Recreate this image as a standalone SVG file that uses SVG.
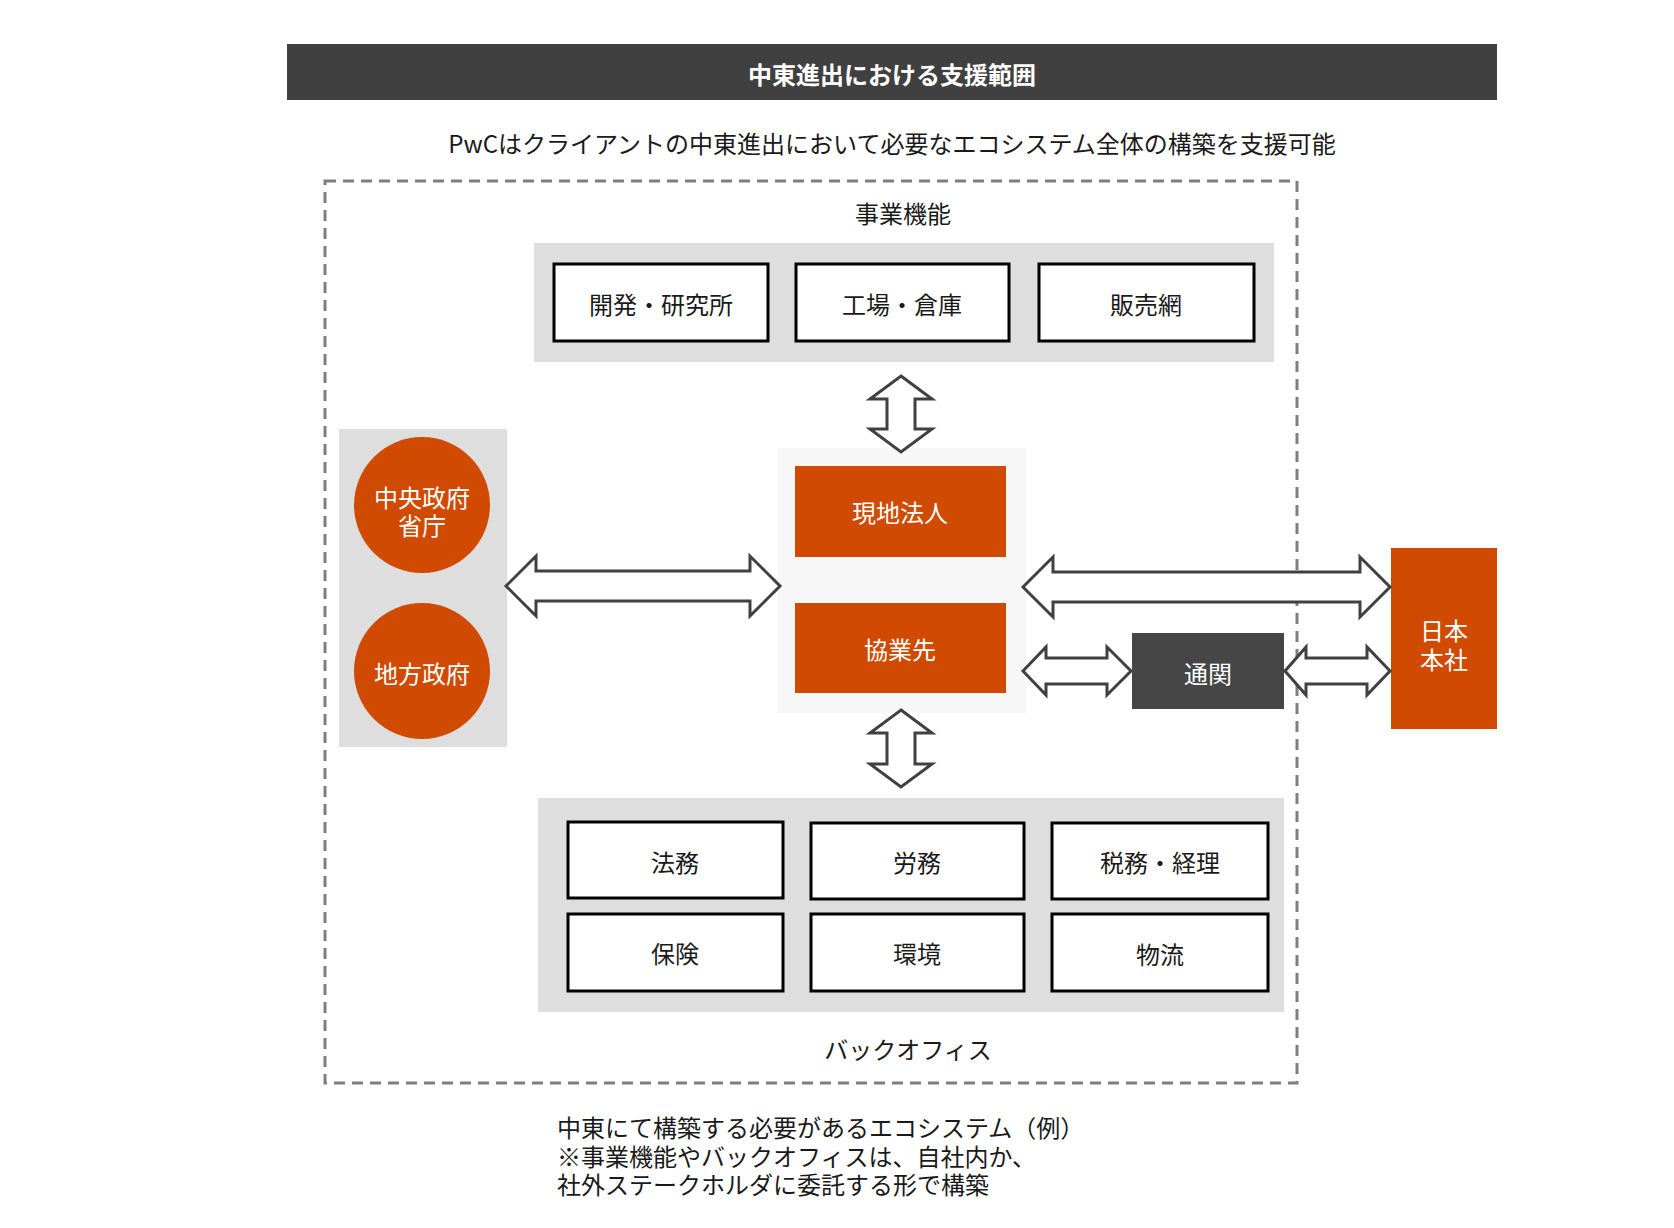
<svg xmlns="http://www.w3.org/2000/svg" width="1674" height="1228" viewBox="0 0 1674 1228">
<style>
text{font-family:"Noto Sans CJK JP","Noto Sans",sans-serif;font-size:24px;fill:#1a1a1a}
.c{text-anchor:middle;dominant-baseline:central}
.w{fill:#ffffff}
.box{fill:#ffffff;stroke:#000000;stroke-width:3}
.panel{fill:#dedede}
.org{fill:#d04a02}
.arr{fill:#ffffff;stroke:#404040;stroke-width:3;stroke-linejoin:miter}
</style>
<rect width="1674" height="1228" fill="#ffffff"/>
<g id="header">
<rect x="287" y="44" width="1210" height="56" fill="#404040"/>
<text class="c w" x="892" y="73" font-weight="bold" font-size="24">中東進出における支援範囲</text>
<text class="c" x="892" y="142" font-size="24.3">PwCはクライアントの中東進出において必要なエコシステム全体の構築を支援可能</text>
</g>
<rect id="scope" x="325" y="181" width="972" height="902" fill="none" stroke="#7f7f7f" stroke-width="3" stroke-dasharray="11,7"/>
<g id="business">
<text class="c" x="903" y="212">事業機能</text>
<rect class="panel" x="534" y="243" width="740" height="119"/>
<g id="n-rd"><rect class="box" x="554" y="264" width="214" height="77"/><text class="c" x="661" y="303">開発・研究所</text></g>
<g id="n-factory"><rect class="box" x="796" y="264" width="213" height="77"/><text class="c" x="902" y="303">工場・倉庫</text></g>
<g id="n-sales"><rect class="box" x="1039" y="264" width="215" height="77"/><text class="c" x="1146" y="303">販売網</text></g>
</g>
<g id="government">
<rect class="panel" x="339" y="429" width="168" height="318"/>
<g id="n-central"><circle class="org" cx="422" cy="505" r="68"/><text class="c w" x="422" y="496">中央政府<tspan x="422" dy="28">省庁</tspan></text></g>
<g id="n-local"><circle class="org" cx="422" cy="671" r="68"/><text class="c w" x="422" y="672">地方政府</text></g>
</g>
<g id="local-entity">
<rect x="777" y="448" width="249" height="265" fill="#f7f7f7"/>
<g id="n-subsidiary"><rect class="org" x="795" y="466" width="211" height="91"/><text class="c w" x="900" y="511">現地法人</text></g>
<g id="n-partner"><rect class="org" x="795" y="603" width="211" height="90"/><text class="c w" x="900" y="648">協業先</text></g>
</g>
<g id="n-customs"><rect x="1132" y="633" width="152" height="76" fill="#464646"/><text class="c w" x="1208" y="672">通関</text></g>
<g id="n-hq"><rect class="org" x="1391" y="548" width="106" height="181"/><text class="c w" x="1444" y="629">日本<tspan x="1444" dy="29">本社</tspan></text></g>
<g id="backoffice">
<rect class="panel" x="538" y="798" width="746" height="214"/>
<g id="n-legal"><rect class="box" x="568" y="822" width="215" height="76"/><text class="c" x="675" y="861">法務</text></g>
<g id="n-labor"><rect class="box" x="811" y="823" width="213" height="76"/><text class="c" x="917" y="861">労務</text></g>
<g id="n-tax"><rect class="box" x="1052" y="823" width="216" height="76"/><text class="c" x="1160" y="861">税務・経理</text></g>
<g id="n-insurance"><rect class="box" x="568" y="914" width="215" height="77"/><text class="c" x="675" y="952">保険</text></g>
<g id="n-env"><rect class="box" x="811" y="914" width="213" height="77"/><text class="c" x="917" y="952">環境</text></g>
<g id="n-logistics"><rect class="box" x="1052" y="914" width="216" height="77"/><text class="c" x="1160" y="953">物流</text></g>
<text class="c" x="908" y="1048">バックオフィス</text>
</g>
<g id="connectors">
<polygon class="arr" points="901,376 932,399 915,399 915,429 932,429 901,452 870,429 887,429 887,399 870,399"/>
<polygon class="arr" points="901,710 932,733 915,733 915,764 932,764 901,787 870,764 887,764 887,733 870,733"/>
<polygon class="arr" points="506,586 536,556 536,571 750,571 750,556 780,586 750,616 750,601 536,601 536,616"/>
<polygon class="arr" points="1023,587 1053,557 1053,572 1360,572 1360,557 1390,587 1360,617 1360,602 1053,602 1053,617"/>
<polygon class="arr" points="1023,671 1046,647 1046,658 1107,658 1107,647 1131,671 1107,695 1107,684 1046,684 1046,695"/>
<polygon class="arr" points="1285,671 1306,647 1306,658 1367,658 1367,647 1390,671 1367,695 1367,684 1306,684 1306,695"/>
</g>
<g id="note">
<text x="557" y="1137" font-size="23">中東にて構築する必要があるエコシステム（例）<tspan x="557" dy="29">※事業機能やバックオフィスは、自社内か、</tspan><tspan x="557" dy="28">社外ステークホルダに委託する形で構築</tspan></text>
</g>
</svg>
